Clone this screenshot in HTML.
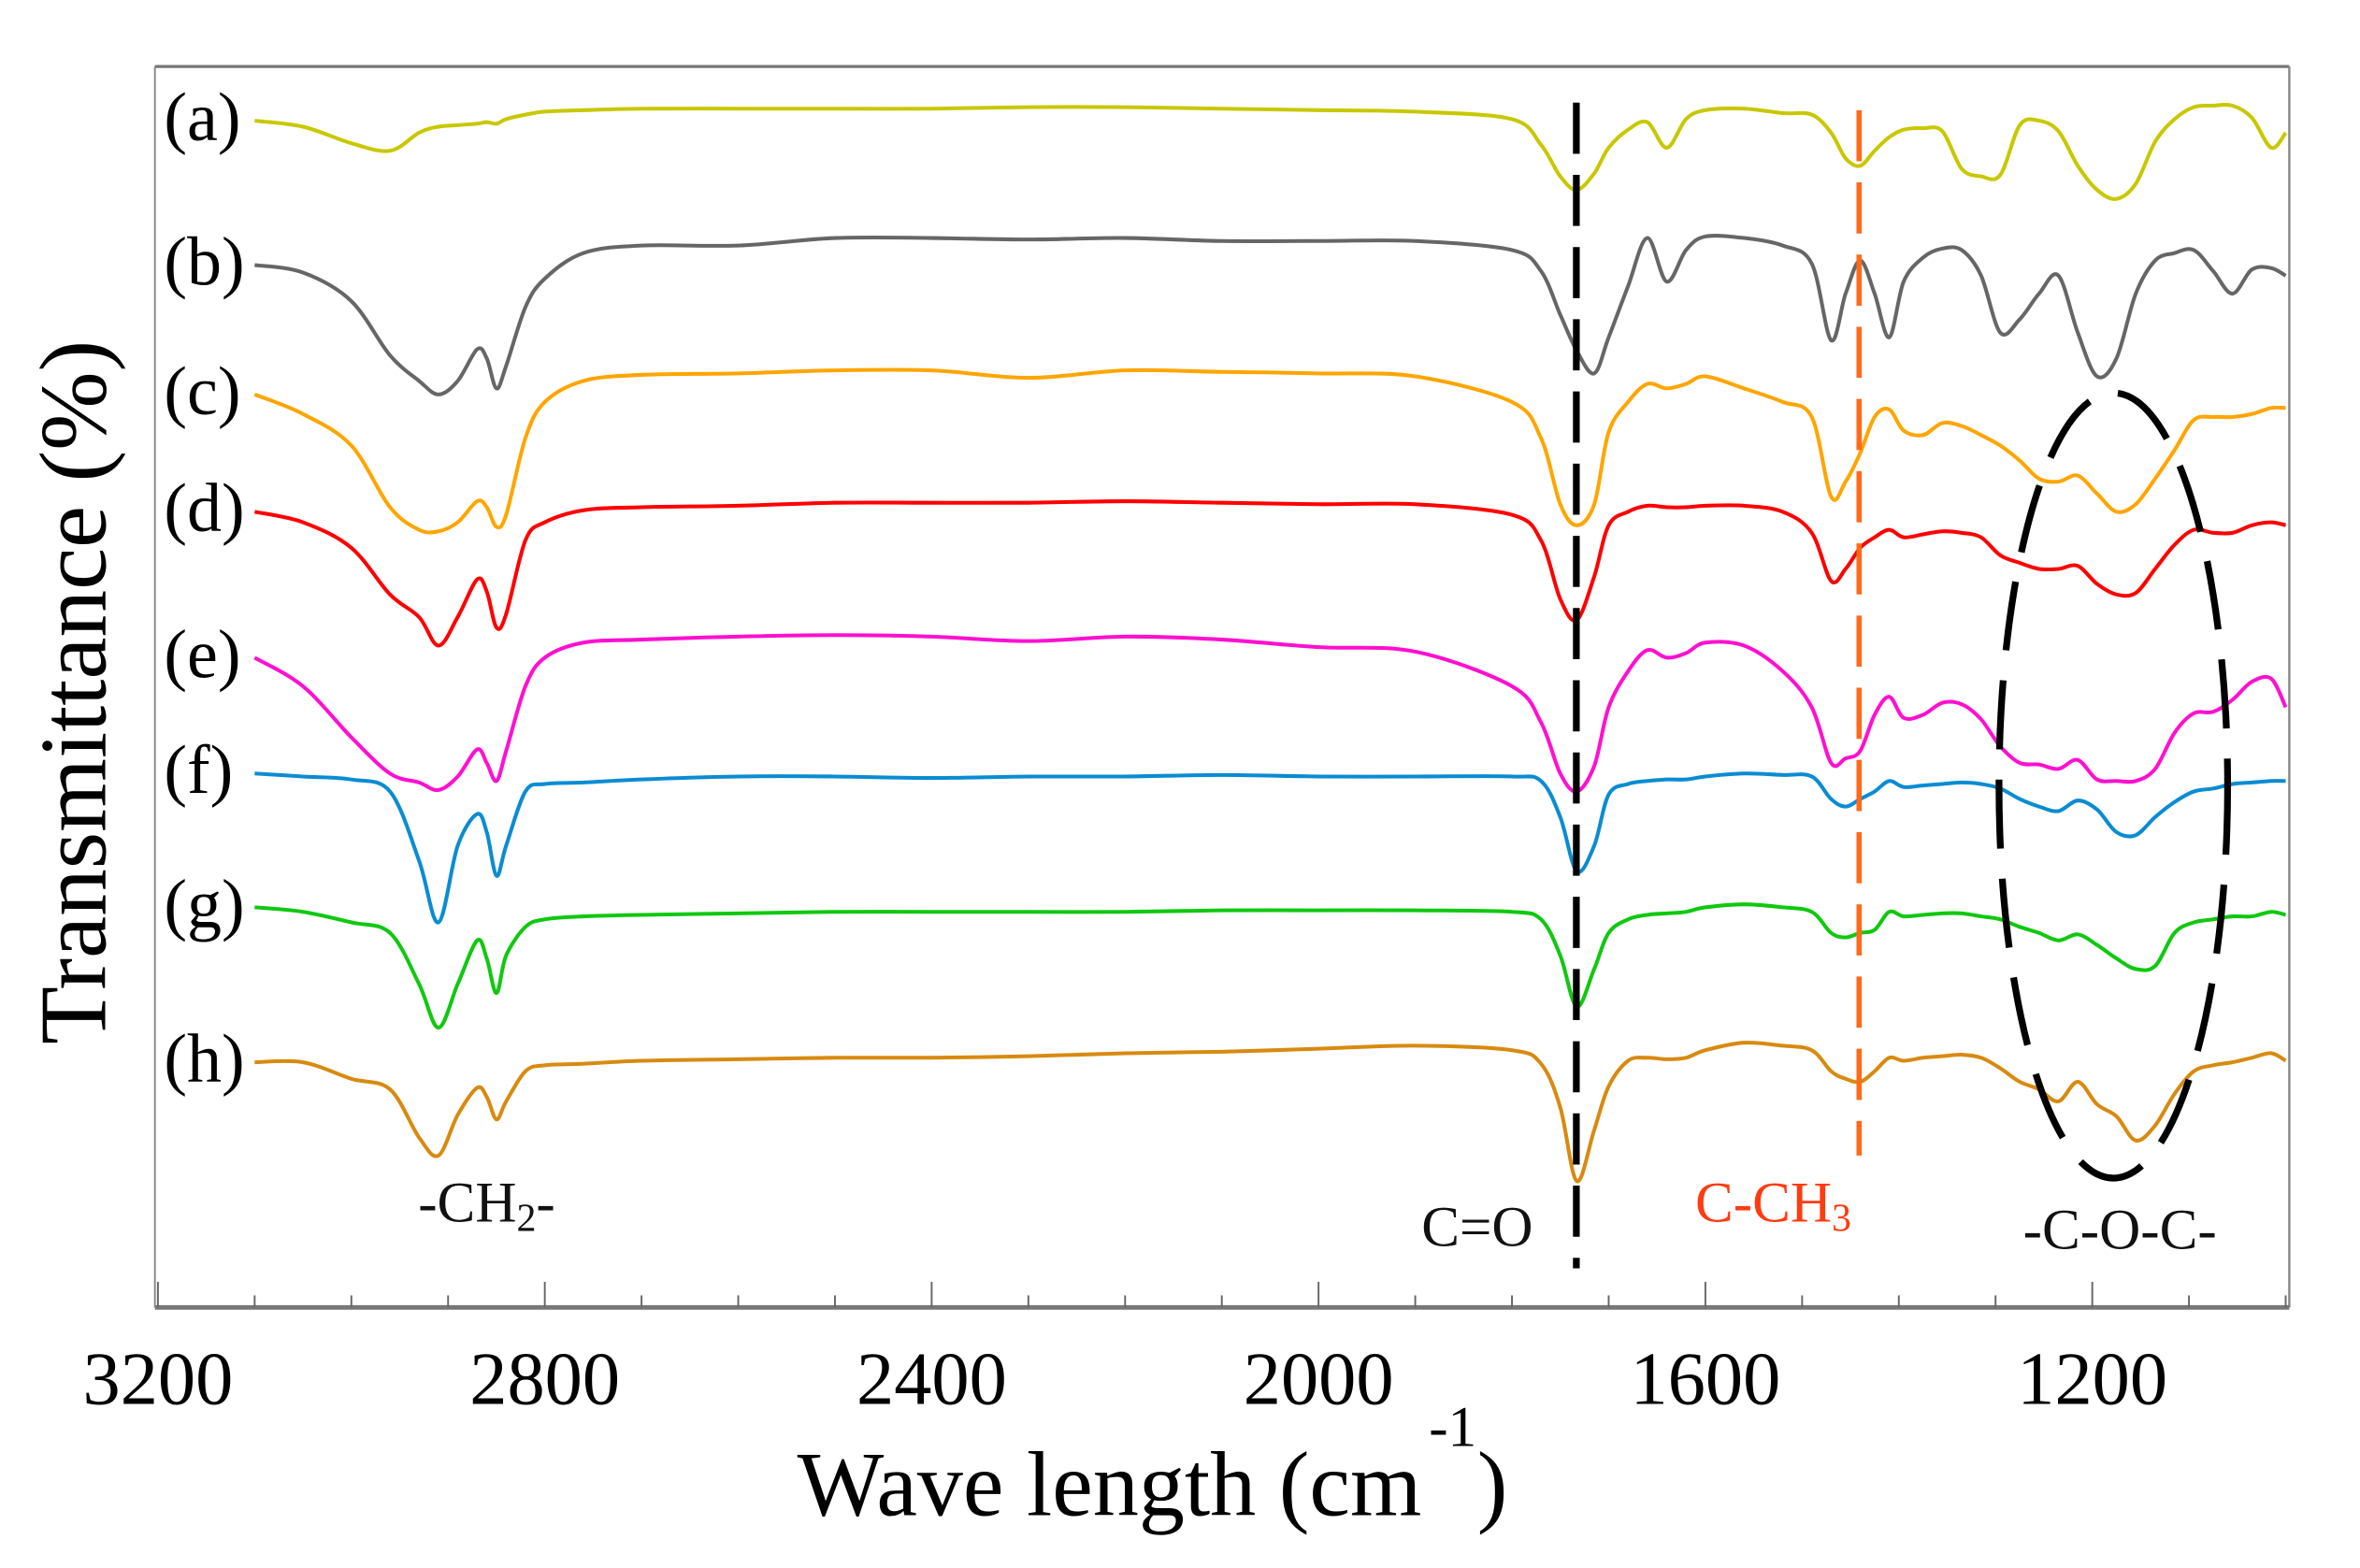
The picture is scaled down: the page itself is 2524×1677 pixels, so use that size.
<!DOCTYPE html>
<html><head><meta charset="utf-8"><title>FTIR spectra</title>
<style>
html,body{margin:0;padding:0;background:#fff;}
svg{display:block;}
text{font-family:"Liberation Serif",serif;}
</style></head>
<body>
<svg id="chart" xmlns="http://www.w3.org/2000/svg" width="2524" height="1677" viewBox="0 0 1569 1042">
  <rect x="0" y="0" width="1569" height="1042" fill="#fff"/>
  <g id="frame">
    <line x1="103" y1="44" x2="1522" y2="44" stroke="#777" stroke-width="2"/>
    <line x1="103" y1="44" x2="103" y2="869" stroke="#888" stroke-width="1.2"/>
    <line x1="1522" y1="44" x2="1522" y2="869" stroke="#888" stroke-width="1.5"/>
    <line x1="103" y1="869" x2="1522" y2="869" stroke="#777" stroke-width="3"/>
  </g>
  <g id="ticks"></g>
  <g id="ticklabels"></g>
  <g id="series"></g>
  <line x1="1048" y1="68" x2="1048" y2="843" stroke="#000" stroke-width="4.5" stroke-dasharray="34 14"/>
  <line x1="1236" y1="73" x2="1236" y2="768" stroke="#ff6a1a" stroke-width="3.5" stroke-dasharray="34 14"/>
  <ellipse cx="1405" cy="522" rx="76" ry="261" fill="none" stroke="#000" stroke-width="4.5" stroke-dasharray="46 20"/>
  <g id="labels"></g>
  <text x="278" y="812" font-size="38" fill="#111">-CH<tspan font-size="26" dy="6">2</tspan><tspan dy="-6">-</tspan></text>
  <text x="945" y="828" font-size="38" fill="#111">C=O</text>
  <text x="1127" y="812" font-size="38" fill="#ff3b10">C-CH<tspan font-size="26" dy="6">3</tspan></text>
  <text x="1345" y="830" font-size="38" fill="#111">-C-O-C-</text>
  <text x="530" y="1007" font-size="61" fill="#000">Wave length (cm</text>
  <text x="950" y="961" font-size="38" fill="#000">-1</text>
  <text x="982" y="1007" font-size="61" fill="#000">)</text>
  <text transform="translate(70,460) rotate(-90)" text-anchor="middle" font-size="63" fill="#000">Transmittance (%)</text>
</svg>
<script>
const wavenumbers = [3100,3050,3000,2960,2930,2910,2890,2870,2860,2850,2840,2820,2800,2760,2700,2600,2500,2400,2300,2200,2100,2000,1900,1800,1770,1750,1733,1715,1700,1680,1660,1640,1620,1600,1560,1520,1490,1470,1455,1440,1425,1410,1395,1375,1355,1335,1315,1295,1275,1255,1235,1215,1195,1175,1155,1135,1115,1095,1075,1055,1035,1015,1000];
const seriesA = [78.0,77.6,76.5,76.0,77.2,77.6,77.7,77.8,77.9,77.8,78.1,78.4,78.6,78.7,78.8,78.8,78.8,78.8,78.9,78.9,78.8,78.7,78.6,78.1,76.4,74.3,73.4,74.5,76.2,77.4,77.9,76.2,78.1,78.7,78.8,78.5,78.4,77.2,75.5,75.0,76.0,76.9,77.4,77.5,77.3,74.8,74.3,74.4,77.7,78.0,77.3,75.0,73.4,72.8,73.8,76.6,78.1,78.9,79.0,79.0,78.2,76.2,77.2];
const seriesB = [68.4,67.9,66.0,62.4,60.7,59.8,60.7,62.8,62.2,60.2,61.7,65.6,67.5,69.2,69.7,69.7,70.2,70.2,70.1,70.2,70.0,70.0,70.0,69.4,68.0,65.1,62.7,61.2,63.6,67.0,70.2,67.3,69.4,70.3,70.2,69.7,68.5,63.4,66.5,68.7,66.5,63.6,67.3,68.9,69.5,69.4,67.7,63.9,64.8,66.5,67.7,63.9,61.0,62.2,66.5,68.7,69.2,69.4,68.0,66.5,68.1,68.2,67.7];
const seriesC = [59.8,58.5,56.4,52.3,50.8,50.7,51.3,52.7,52.3,51.0,51.8,56.9,59.3,60.7,61.1,61.2,61.4,61.4,60.9,61.4,61.3,61.2,61.0,59.3,56.9,52.5,51.1,52.5,57.3,59.3,60.5,60.2,60.5,61.0,60.2,59.3,58.3,53.0,54.0,55.9,58.3,58.8,57.4,57.1,57.9,57.7,57.1,56.4,55.4,54.2,54.0,54.4,53.2,52.0,52.5,54.2,56.1,58.1,58.3,58.3,58.5,58.9,58.9];
const seriesD = [52.0,51.3,49.6,46.5,45.0,43.1,45.0,47.5,46.7,44.3,45.2,50.1,51.3,52.1,52.3,52.4,52.6,52.6,52.6,52.7,52.6,52.5,52.5,51.8,50.1,46.2,44.8,47.7,51.1,52.0,52.4,52.3,52.3,52.4,52.4,52.0,50.6,47.4,48.2,49.6,50.3,50.8,50.3,50.5,50.7,50.6,50.3,49.1,48.6,48.2,48.2,48.4,47.2,46.5,46.6,48.2,49.8,50.8,50.6,50.6,51.1,51.3,51.1];
const seriesE = [42.3,40.4,37.0,34.6,34.0,33.5,34.4,36.2,35.3,34.1,36.1,40.4,42.3,43.3,43.5,43.7,43.8,43.7,43.4,43.7,43.5,43.0,42.7,40.4,38.0,34.6,33.4,35.1,39.0,41.4,42.8,42.3,42.6,43.3,43.1,41.4,39.0,35.3,35.6,36.1,38.5,39.7,38.3,38.5,39.3,39.2,38.2,36.4,35.3,35.2,34.9,35.5,34.2,34.1,34.1,34.9,37.3,38.6,38.7,39.5,40.7,40.9,39.0];
const seriesF = [34.6,34.4,34.2,33.4,28.8,24.7,29.8,31.9,30.7,27.8,29.8,33.4,33.9,34.0,34.2,34.4,34.4,34.3,34.4,34.4,34.5,34.4,34.4,34.4,34.1,31.7,28.1,29.8,33.2,33.9,34.1,34.2,34.2,34.4,34.6,34.5,34.4,32.9,32.4,32.9,33.4,34.1,33.7,33.8,33.9,34.0,33.9,33.6,32.9,32.4,32.1,32.8,32.2,30.7,30.5,31.7,32.7,33.4,33.6,33.9,34.0,34.1,34.1];
const seriesG = [25.7,25.4,24.7,24.0,20.6,17.7,20.6,23.5,22.3,20.0,22.5,24.4,24.9,25.1,25.2,25.3,25.4,25.4,25.4,25.4,25.5,25.5,25.5,25.4,24.9,22.5,19.1,21.6,24.0,24.9,25.2,25.3,25.4,25.7,25.9,25.7,25.4,24.0,23.7,24.0,24.2,25.4,25.1,25.2,25.3,25.3,25.1,24.9,24.4,24.0,23.5,23.9,23.2,22.3,21.6,21.8,24.0,24.7,24.9,25.1,25.1,25.4,25.2];
const seriesH = [15.4,15.4,14.3,13.6,10.4,9.2,11.9,13.7,13.1,11.6,12.8,14.8,15.2,15.3,15.5,15.6,15.7,15.7,15.8,16.0,16.1,16.3,16.5,16.2,15.3,12.4,7.5,10.9,13.8,15.5,15.7,15.6,15.7,16.2,16.7,16.5,16.2,14.8,14.3,14.1,14.8,15.7,15.5,15.7,15.8,15.9,15.7,15.0,14.1,13.6,12.8,14.1,12.6,11.8,10.2,11.2,13.3,14.8,15.2,15.4,15.7,16.0,15.5];
const seriesNames = ['(a)','(b)','(c)','(d)','(e)','(f)','(g)','(h)'];
const seriesColors = ['#c8c800','#666666','#ffa500','#ff0000','#ff10d0','#0a8cd2','#10c810','#d88a10'];
const majorTicks = [3200,2800,2400,2000,1600,1200];
const tickLabels = ['3200','2800','2400','2000','1600','1200'];

const allSeries = [seriesA,seriesB,seriesC,seriesD,seriesE,seriesF,seriesG,seriesH];
const NS = 'http://www.w3.org/2000/svg';
function xScale(w){ return 105 + (3200 - w) * 0.643; }
function yScale(v){ return 860 - v * 10; }

const tickG = document.getElementById('ticks');
for (let w = 3200; w >= 1000; w -= 100) {
  const major = majorTicks.indexOf(w) >= 0;
  const t = document.createElementNS(NS,'line');
  
  
  const x = xScale(w);
  t.setAttribute('x1', x); t.setAttribute('x2', x);
  t.setAttribute('y1', major ? 852 : 861); t.setAttribute('y2', 869);
  t.setAttribute('stroke', '#666'); t.setAttribute('stroke-width', '1.2');
  tickG.appendChild(t);
}
const tlG = document.getElementById('ticklabels');
majorTicks.forEach((w, i) => {
  const t = document.createElementNS(NS,'text');
  
  
  t.setAttribute('x', xScale(w)); t.setAttribute('y', 933);
  t.setAttribute('text-anchor', 'middle'); t.setAttribute('font-size', '50');
  t.textContent = tickLabels[i];
  tlG.appendChild(t);
});

function smoothPath(pts){
  let d = 'M' + pts[0][0].toFixed(1) + ',' + pts[0][1].toFixed(1);
  for (let i = 0; i < pts.length - 1; i++) {
    const p0 = pts[i-1] || pts[i], p1 = pts[i], p2 = pts[i+1], p3 = pts[i+2] || p2;
    const c1x = p1[0] + (p2[0]-p0[0])/6, c1y = p1[1] + (p2[1]-p0[1])/6;
    const c2x = p2[0] - (p3[0]-p1[0])/6, c2y = p2[1] - (p3[1]-p1[1])/6;
    d += ' C' + c1x.toFixed(1) + ',' + c1y.toFixed(1) + ' ' + c2x.toFixed(1) + ',' + c2y.toFixed(1) + ' ' + p2[0].toFixed(1) + ',' + p2[1].toFixed(1);
  }
  return d;
}
const sG = document.getElementById('series');
const lG = document.getElementById('labels');
allSeries.forEach((vals, si) => {
  const pts = vals.map((v, i) => [xScale(wavenumbers[i]), yScale(v)]);
  const p = document.createElementNS(NS,'path');
  
  
  p.setAttribute('d', smoothPath(pts));
  p.setAttribute('fill', 'none');
  p.setAttribute('stroke', seriesColors[si]);
  p.setAttribute('stroke-width', '2.5');
  p.setAttribute('stroke-linejoin', 'round');
  sG.appendChild(p);
  const lab = document.createElementNS(NS,'text');
  
  
  lab.setAttribute('x', 109);
  lab.setAttribute('y', yScale(vals[0]) + 13);
  lab.setAttribute('font-size', '46');
  lab.textContent = seriesNames[si];
  lG.appendChild(lab);
});
</script>
</body></html>
